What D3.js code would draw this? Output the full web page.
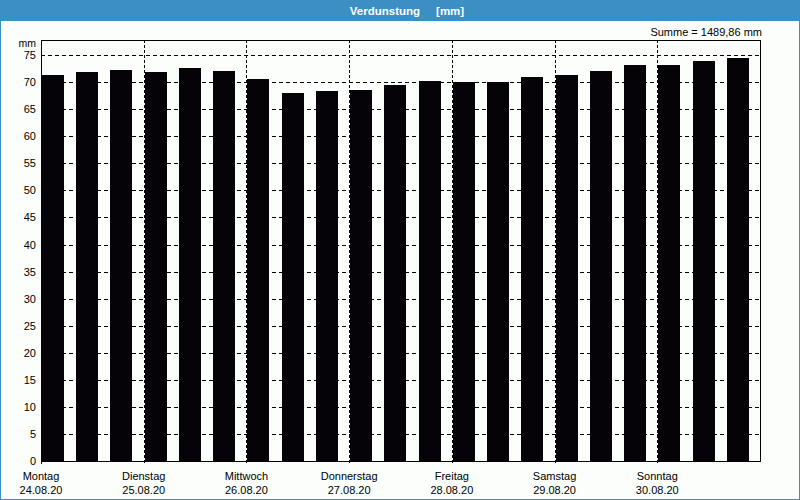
<!DOCTYPE html>
<html><head><meta charset="utf-8">
<script src="https://cdn.jsdelivr.net/npm/d3@7"></script>
<style>
html,body{margin:0;padding:0;background:#fbfefb;}
svg{display:block;}
text{font-family:"Liberation Sans",Arial,sans-serif;}
</style></head>
<body>
<svg id="c" width="800" height="500"></svg>
<script>
const title = "Verdunstung";
const unitLabel = "[mm]";
const sumLabel = "Summe = 1489,86 mm";
const dayNames = ["Montag","Dienstag","Mittwoch","Donnerstag","Freitag","Samstag","Sonntag"];
const dayDates = ["24.08.20","25.08.20","26.08.20","27.08.20","28.08.20","29.08.20","30.08.20"];
const yTicks = [0,5,10,15,20,25,30,35,40,45,50,55,60,65,70,75];
const values = [71.35,71.9,72.28, 71.9,72.65,72.15, 70.6,67.99,68.3, 68.6,69.4,70.3, 70.06,70.06,71.03, 71.4,72.15,73.09, 73.09,73.83,74.4];

(function(){
const svg = d3.select("#c");
const W = 800, H = 500;
const pL = 41, pR = 760, pT = 40, pB = 461;

// background + border + title bar
svg.append("rect").attr("x",0).attr("y",0).attr("width",W).attr("height",H).attr("fill","#fbfefb");
svg.append("rect").attr("x",0.5).attr("y",0.5).attr("width",W-1).attr("height",H-1).attr("fill","none").attr("stroke","#3c8fc3").attr("stroke-width",1);
svg.append("rect").attr("x",0).attr("y",0).attr("width",W).attr("height",21).attr("fill","#3c8fc3");
svg.append("text").attr("x",407).attr("y",14.5).attr("text-anchor","middle")
  .attr("fill","#ffffff").attr("font-weight","bold").attr("font-size",11.5)
  .attr("xml:space","preserve").text(title + "     " + unitLabel);

const start = new Date(2020,7,24,0,0);
const end = d3.timeDay.offset(start, 7);
const x = d3.scaleTime().domain([start,end]).range([pL,pR]);
const y = d3.scaleLinear().domain([0,77.8]).range([pB,pT]);

// horizontal dashed gridlines
svg.append("g").selectAll("line").data(yTicks.filter(d=>d>0)).join("line")
  .attr("x1",pL).attr("x2",pR)
  .attr("y1",d=>Math.round(y(d))+0.5).attr("y2",d=>Math.round(y(d))+0.5)
  .attr("stroke","#000").attr("stroke-width",1).attr("stroke-dasharray","4,3");

// vertical dashed day lines
const dayStarts = d3.range(7).map(i=>d3.timeDay.offset(start,i));
svg.append("g").selectAll("line").data(dayStarts.slice(1)).join("line")
  .attr("x1",d=>Math.round(x(d))+0.5).attr("x2",d=>Math.round(x(d))+0.5)
  .attr("y1",pT).attr("y2",pB+3)
  .attr("stroke","#000").attr("stroke-width",1).attr("stroke-dasharray","3,2");

// bars
const slotTimes = values.map((v,i)=>d3.timeHour.offset(start, i*8));
svg.append("g").selectAll("rect").data(values).join("rect")
  .attr("x",(d,i)=>Math.round(x(slotTimes[i]))+1)
  .attr("width",(d,i)=>Math.round((x(d3.timeHour.offset(slotTimes[i],8))-x(slotTimes[i]))*0.645))
  .attr("y",d=>Math.round(y(d)))
  .attr("height",d=>pB-Math.round(y(d)))
  .attr("fill","#050308");

// frame
svg.append("rect").attr("x",pL+0.5).attr("y",pT+0.5).attr("width",pR-pL).attr("height",pB-pT)
  .attr("fill","none").attr("stroke","#000").attr("stroke-width",1);
svg.append("line").attr("x1",pL+0.5).attr("x2",pL+0.5).attr("y1",pB).attr("y2",pB+3).attr("stroke","#000");

// y tick labels
svg.append("g").selectAll("text").data(yTicks).join("text")
  .attr("x",36).attr("y",d=>y(d)+4).attr("text-anchor","end")
  .attr("font-size",11).attr("fill","#000").text(d=>d);
svg.append("text").attr("x",36).attr("y",47).attr("text-anchor","end")
  .attr("font-size",10.5).attr("fill","#000").text("mm");

// sum label
svg.append("text").attr("x",762).attr("y",36).attr("text-anchor","end")
  .attr("font-size",11).attr("fill","#000").text(sumLabel);

// x labels
const xl = svg.append("g").selectAll("g").data(dayStarts).join("g");
xl.append("text").attr("x",d=>x(d)).attr("y",480).attr("text-anchor","middle")
  .attr("font-size",11).attr("fill","#000").text((d,i)=>dayNames[i]);
xl.append("text").attr("x",d=>x(d)).attr("y",494).attr("text-anchor","middle")
  .attr("font-size",11).attr("fill","#000").text((d,i)=>dayDates[i]);
})();
</script>
</body></html>
